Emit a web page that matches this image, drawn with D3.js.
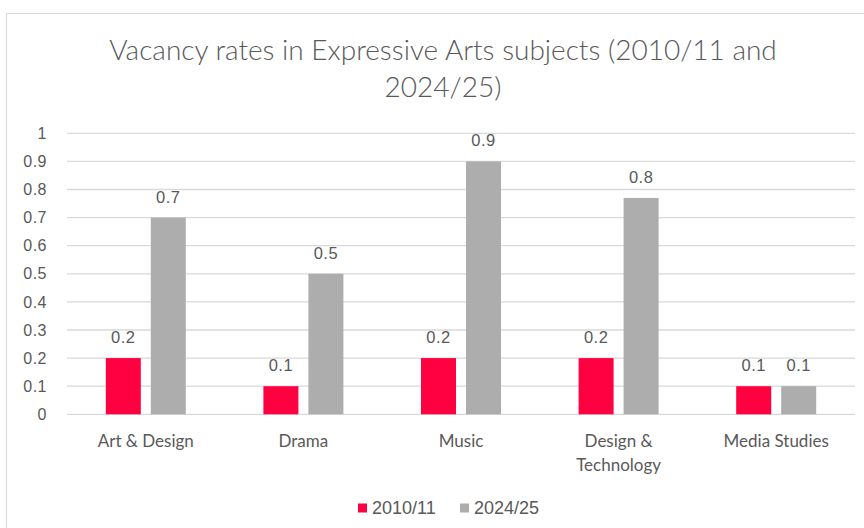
<!DOCTYPE html>
<html>
<head>
<meta charset="utf-8">
<script src="https://cdn.jsdelivr.net/npm/d3@7"></script>
<style>
  html, body { margin: 0; padding: 0; background: #ffffff; }
  svg { display: block; }
</style>
</head>
<body>
<svg id="chart" width="864" height="528"></svg>
<script>
// Vacancy rates by subject, two survey years
const categories = ["Art & Design", "Drama", "Music", "Design & Technology", "Media Studies"];
const categoryLines = [["Art & Design"], ["Drama"], ["Music"], ["Design &", "Technology"], ["Media Studies"]];
const seriesNames = ["2010/11", "2024/25"];
const values2010 = [0.2, 0.1, 0.2, 0.2, 0.1];
const values2024 = [0.7, 0.5, 0.9, 0.77, 0.1];
const yTicks = [0, 0.1, 0.2, 0.3, 0.4, 0.5, 0.6, 0.7, 0.8, 0.9, 1];
const titleLines = ["Vacancy rates in Expressive Arts subjects (2010/11 and", "2024/25)"];
const colors = ["#ff0040", "#adadad"];

const seriesValues = [values2010, values2024];
const rows = categories.map((c, i) => ({
  category: c,
  lines: categoryLines[i],
  vals: seriesNames.map((s, j) => ({ series: s, value: seriesValues[j][i], color: colors[j] }))
}));

const svg = d3.select("#chart");
const textColor = "#595959";
const sansNum = "'Liberation Sans', Arial, sans-serif";
const sansText = "Lato, 'Open Sans', sans-serif";

// chart frame
svg.append("rect")
  .attr("x", 6.5).attr("y", 13.5)
  .attr("width", 900).attr("height", 540)
  .attr("fill", "#ffffff")
  .attr("stroke", "#d9d9d9").attr("stroke-width", 1);

const plot = { left: 67, right: 855, top: 133.3, bottom: 414.3 };

const y = d3.scaleLinear().domain([0, 1]).range([plot.bottom, plot.top]);
const x0 = d3.scaleBand().domain(categories).range([plot.left, plot.right]).padding(0);
const groupW = 80;
const x1 = d3.scaleBand().domain(seriesNames)
  .range([(x0.bandwidth() - groupW) / 2, (x0.bandwidth() + groupW) / 2])
  .paddingInner(0.222).paddingOuter(0);

// gridlines
svg.append("g")
  .selectAll("line")
  .data(yTicks)
  .join("line")
  .attr("x1", plot.left).attr("x2", plot.right)
  .attr("y1", d => y(d)).attr("y2", d => y(d))
  .attr("stroke", "#d9d9d9").attr("stroke-width", 1.3);

// y axis labels
const yAxis = svg.append("g")
  .attr("transform", `translate(${plot.left - 20},0)`)
  .call(d3.axisLeft(y).tickValues(yTicks).tickSize(0).tickPadding(0).tickFormat(d => d3.format("")(+d.toFixed(1))));
yAxis.select(".domain").remove();
yAxis.selectAll("text")
  .attr("fill", textColor)
  .style("font-family", sansNum)
  .style("font-size", "16px")
  .style("letter-spacing", "0.5px");

// bars
const groups = svg.append("g")
  .selectAll("g")
  .data(rows)
  .join("g")
  .attr("transform", d => `translate(${x0(d.category)},0)`);

groups.selectAll("rect")
  .data(d => d.vals)
  .join("rect")
  .attr("x", d => x1(d.series))
  .attr("width", x1.bandwidth())
  .attr("y", d => y(d.value))
  .attr("height", d => y(0) - y(d.value))
  .attr("fill", d => d.color);

// value labels
groups.selectAll("text.val")
  .data(d => d.vals)
  .join("text")
  .attr("class", "val")
  .attr("x", d => x1(d.series) + x1.bandwidth() / 2)
  .attr("y", d => y(d.value) - 15)
  .attr("text-anchor", "middle")
  .attr("fill", textColor)
  .style("font-family", sansNum)
  .style("font-size", "16.5px")
  .style("letter-spacing", "0.5px")
  .text(d => d3.format(".1f")(d.value));

// category labels
const catG = svg.append("g")
  .selectAll("text")
  .data(rows)
  .join("text")
  .attr("x", d => x0(d.category) + x0.bandwidth() / 2)
  .attr("y", 447)
  .attr("text-anchor", "middle")
  .attr("fill", textColor)
  .style("font-family", sansText)
  .style("font-size", "17px");
catG.selectAll("tspan")
  .data(d => d.lines.map((t, i) => ({ t, i, cx: x0(d.category) + x0.bandwidth() / 2 })))
  .join("tspan")
  .attr("x", d => d.cx)
  .attr("dy", d => d.i === 0 ? 0 : 24)
  .text(d => d.t);

// title
svg.append("text")
  .attr("x", 443).attr("y", 60)
  .attr("text-anchor", "middle")
  .attr("fill", textColor)
  .style("font-family", sansText)
  .style("font-weight", 300)
  .style("font-size", "28px")
  .selectAll("tspan")
  .data(titleLines)
  .join("tspan")
  .attr("x", 443)
  .attr("dy", (d, i) => i === 0 ? 0 : 37)
  .text(d => d);

// legend
const legendPos = [358, 460];
const legend = svg.append("g")
  .selectAll("g")
  .data(seriesNames)
  .join("g")
  .attr("transform", (d, i) => `translate(${legendPos[i]},503.5)`);
legend.append("rect")
  .attr("width", 9).attr("height", 9)
  .attr("fill", (d, i) => colors[i]);
legend.append("text")
  .attr("x", 14).attr("y", 10.5)
  .attr("fill", textColor)
  .style("font-family", sansNum)
  .style("font-size", "18px")
  .text(d => d);
</script>
</body>
</html>
